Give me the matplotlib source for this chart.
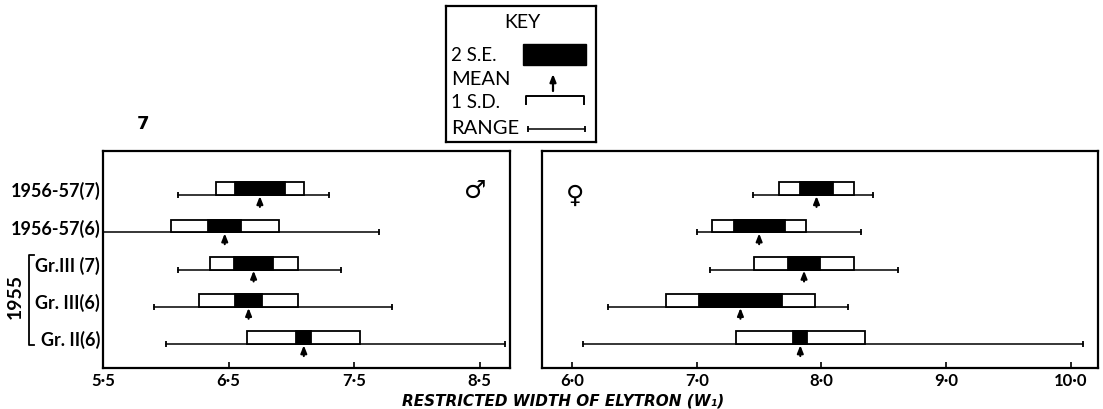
import matplotlib.pyplot as plt
from matplotlib.patches import Rectangle
from matplotlib.lines import Line2D

plt.rcParams['font.family'] = ['Lato', 'DejaVu Sans']

# samples, top to bottom
groups = ["1956-57(7)", "1956-57(6)", "Gr.III (7)", "Gr. III(6)", "Gr. II(6)"]

# males: mean, 1 S.D., 2 S.E. and observed range
male_mean = [6.75, 6.47, 6.70, 6.66, 7.10]
male_sd = [0.35, 0.43, 0.35, 0.395, 0.45]
male_2se = [0.20, 0.13, 0.155, 0.11, 0.06]
male_min = [6.10, 5.50, 6.10, 5.91, 6.00]
male_max = [7.30, 7.70, 7.40, 7.80, 8.70]

# females
female_mean = [7.96, 7.50, 7.86, 7.35, 7.83]
female_sd = [0.30, 0.375, 0.40, 0.60, 0.515]
female_2se = [0.135, 0.205, 0.13, 0.335, 0.055]
female_min = [7.45, 7.00, 7.11, 6.29, 6.09]
female_max = [8.41, 8.32, 8.61, 8.21, 10.10]

male_ticks = [5.5, 6.5, 7.5, 8.5]
male_ticklabels = ["5·5", "6·5", "7·5", "8·5"]
female_ticks = [6, 7, 8, 9, 10]
female_ticklabels = ["6·0", "7·0", "8·0", "9·0", "10·0"]

W, H = 1103, 410
fig = plt.figure(figsize=(W / 100, H / 100), dpi=100)


def fig_box(x0, y0, x1, y1):
    return [x0 / W, 1 - y1 / H, (x1 - x0) / W, (y1 - y0) / H]


BOX_H = 0.34
ARROW = 0.32
ARROW_STYLE = "-|>,head_length=0.45,head_width=0.18"


def draw_panel(ax, mean, sd, se2, lo, hi):
    for i in range(len(mean)):
        y = i
        ax.plot([lo[i], hi[i]], [y, y], color="black", lw=1.1, zorder=2)
        ax.plot([lo[i], hi[i]], [y, y], ls="none", marker="|", ms=4, mew=1.3,
                color="black", zorder=2)
        ax.add_patch(Rectangle((mean[i] - sd[i], y - BOX_H), 2 * sd[i], BOX_H,
                               fc="white", ec="black", lw=1.3, zorder=3))
        ax.add_patch(Rectangle((mean[i] - se2[i], y - BOX_H), 2 * se2[i], BOX_H,
                               fc="black", ec="black", lw=1.3, zorder=3))
        ax.annotate("", xy=(mean[i], y + 0.03), xytext=(mean[i], y + ARROW),
                    arrowprops=dict(arrowstyle=ARROW_STYLE, color="black",
                                    lw=1.5, shrinkA=0, shrinkB=0),
                    zorder=4)
    ax.set_ylim(len(mean) - 1 + 0.64, -1.18)
    for s in ax.spines.values():
        s.set_linewidth(1.6)
    ax.tick_params(axis="x", direction="in", length=4, width=1.2, pad=3,
                   labelsize=12)


ax_m = fig.add_axes(fig_box(103, 152, 510, 369))
ax_f = fig.add_axes(fig_box(542, 152, 1098, 369))

draw_panel(ax_m, male_mean, male_sd, male_2se, male_min, male_max)
draw_panel(ax_f, female_mean, female_sd, female_2se, female_min, female_max)

ax_m.set_xlim(5.5, 8.743)
ax_m.set_xticks(male_ticks, male_ticklabels)
ax_f.set_xlim(5.759, 10.217)
ax_f.set_xticks(female_ticks, female_ticklabels)
for lab in ax_m.get_xticklabels() + ax_f.get_xticklabels():
    lab.set_fontweight("bold")

ax_m.set_yticks([i - BOX_H / 2 for i in range(len(groups))], groups)
ax_m.tick_params(axis="y", length=0, pad=2, labelsize=13)
for lab in ax_m.get_yticklabels():
    lab.set_fontweight("bold")
ax_f.set_yticks([])

ax_m.text(0.915, 0.82, "♂", transform=ax_m.transAxes, fontsize=18,
          family="DejaVu Sans", ha="center", va="center")
ax_f.text(0.06, 0.80, "♀", transform=ax_f.transAxes, fontsize=18,
          family="DejaVu Sans", ha="center", va="center")

# 1955 bracket on the left
fig.text(15 / W, 1 - 297 / H, "1955", rotation=90, ha="center", va="center",
         fontsize=14, fontweight="bold")
fig.add_artist(Line2D([34 / W, 29 / W, 29 / W, 34 / W],
                      [1 - 256 / H, 1 - 256 / H, 1 - 346 / H, 1 - 346 / H],
                      color="black", lw=1.3))

fig.text(143 / W, 1 - 124 / H, "7", ha="center", va="center", fontsize=13,
         fontweight="bold", family="DejaVu Sans")

fig.text(563 / W, 1 - 401 / H, "RESTRICTED WIDTH OF ELYTRON (W₁)", ha="center",
         va="center", fontsize=11, fontweight="bold", fontstyle="italic",
         family="DejaVu Sans")

# key
ax_k = fig.add_axes(fig_box(446, 7, 596, 143))
ax_k.set_xlim(446, 596)
ax_k.set_ylim(143, 7)
ax_k.set_xticks([])
ax_k.set_yticks([])
for s in ax_k.spines.values():
    s.set_linewidth(1.6)
ax_k.text(522, 22, "KEY", ha="center", va="center", fontsize=14)
ax_k.text(451, 56, "2 S.E.", ha="left", va="center", fontsize=13.5)
ax_k.add_patch(Rectangle((523, 45), 63, 21, fc="black", ec="black"))
ax_k.text(451, 80, "MEAN", ha="left", va="center", fontsize=14.5)
ax_k.annotate("", xy=(553, 75), xytext=(553, 92),
              arrowprops=dict(arrowstyle=ARROW_STYLE, color="black",
                              lw=1.6, shrinkA=0, shrinkB=0))
ax_k.text(451, 103, "1 S.D.", ha="left", va="center", fontsize=13.5)
ax_k.plot([526, 526, 584, 584], [105, 97, 97, 105], color="black", lw=1.4)
ax_k.text(451, 129, "RANGE", ha="left", va="center", fontsize=14.5)
ax_k.plot([528, 585], [130, 130], color="black", lw=1.1, marker="|", ms=4, mew=1.3)

fig.savefig("out.png", dpi=100)
